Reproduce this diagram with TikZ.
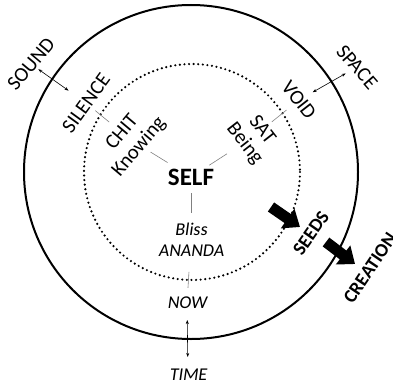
\documentclass[tikz,border=0pt]{standalone}
\usepackage{fontspec}
\setmainfont{Carlito}
\newfontfamily\slantfont[FakeSlant=0.14]{Carlito}
\usetikzlibrary{arrows.meta,calc}

\begin{document}
\begin{tikzpicture}[
			x=1pt,y=-1pt,
			label/.style={
				font=\fontsize{20.5}{22}\selectfont,
				align=center,
				inner sep=1pt
			},
			lowlabel/.style={
				label,
				font=\fontsize{18}{21}\slantfont
			},
			boldlabel/.style={
				label,
				font=\fontsize{19}{22}\selectfont\bfseries
			},
			tickline/.style={
				draw=gray,
				line width=0.6pt
			},
			twoway/.style={
				{Stealth[length=4pt,width=3pt]}-{Stealth[length=4pt,width=3pt]},
				line width=0.6pt
			},
			blockarrow/.style={
				-{Triangle[width=23pt,length=15pt]},
				line width=11pt
			}
			]
			
			\useasboundingbox (0,0) rectangle (393,385);
			
			% circles
			\draw[line width=2pt] (191,172) circle[radius=167];
			\draw[line width=2.4pt,line cap=round,dash pattern=on 0pt off 4.6pt]
			(192,172) circle[radius=108];
			
			% texts
			\node[label,font=\fontsize{25}{28}\selectfont\bfseries] (self) at (191,177) {SELF};
			\node[label,rotate=50] (sound) at (31,64) {SOUND};
			\node[label,rotate=54] (silence) at (86,103) {SILENCE};
			\node[label,rotate=50] (chit) at (131,140) {CHIT\\Knowing};
			\node[label,rotate=-49] (space) at (357,67) {SPACE};
			\node[label,rotate=-52] (void) at (299,100) {VOID};
			\node[label,rotate=-52] (sat) at (253,137) {SAT\\Being};
			\node[lowlabel] (bliss) at (191,240) {Bliss\\ANANDA};
			\node[lowlabel] (now) at (187,303) {NOW};
			\node[lowlabel] (time) at (188,375) {TIME};
			\node[boldlabel,rotate=55] (seeds) at (311,233) {SEEDS};
			\node[boldlabel,rotate=56] (creation) at (370,268) {CREATION};
			
			% connectors
			\draw[twoway] ($(sound)!9pt!(silence)$) -- ($(sound)!46pt!(silence)$);
			\draw[tickline] ($(silence)!12pt!(chit)$) -- ($(silence)!30pt!(chit)$);
			\draw[tickline] ($(chit)!23pt!(self)$) -- ($(chit)!43pt!(self)$);
			\draw[twoway] ($(space)!13pt!(void)$) -- ($(space)!51pt!(void)$);
			\draw[tickline] ($(void)!16pt!(sat)$) -- ($(void)!35pt!(sat)$);
			\draw[tickline] ($(sat)!31pt!(self)$) -- ($(sat)!52pt!(self)$);
			\draw[tickline] ($(self)!16pt!(bliss)$) -- ($(self)!36pt!(bliss)$);
			\draw[tickline] ($(bliss)!32pt!(now)$) -- ($(bliss)!48pt!(now)$);
			\draw[twoway] ($(now)!17pt!(time)$) -- ($(now)!54pt!(time)$);
			
			% block arrows
			\coordinate (seedstail) at (271,207);
			\coordinate (seedstip) at (300,227);
			\coordinate (creationtail) at (326,242);
			\coordinate (creationtip) at (355,264);
			\draw[blockarrow] (seedstail) -- (seedstip);
			\draw[blockarrow] (creationtail) -- (creationtip);
			
		\end{tikzpicture}
\end{document}
